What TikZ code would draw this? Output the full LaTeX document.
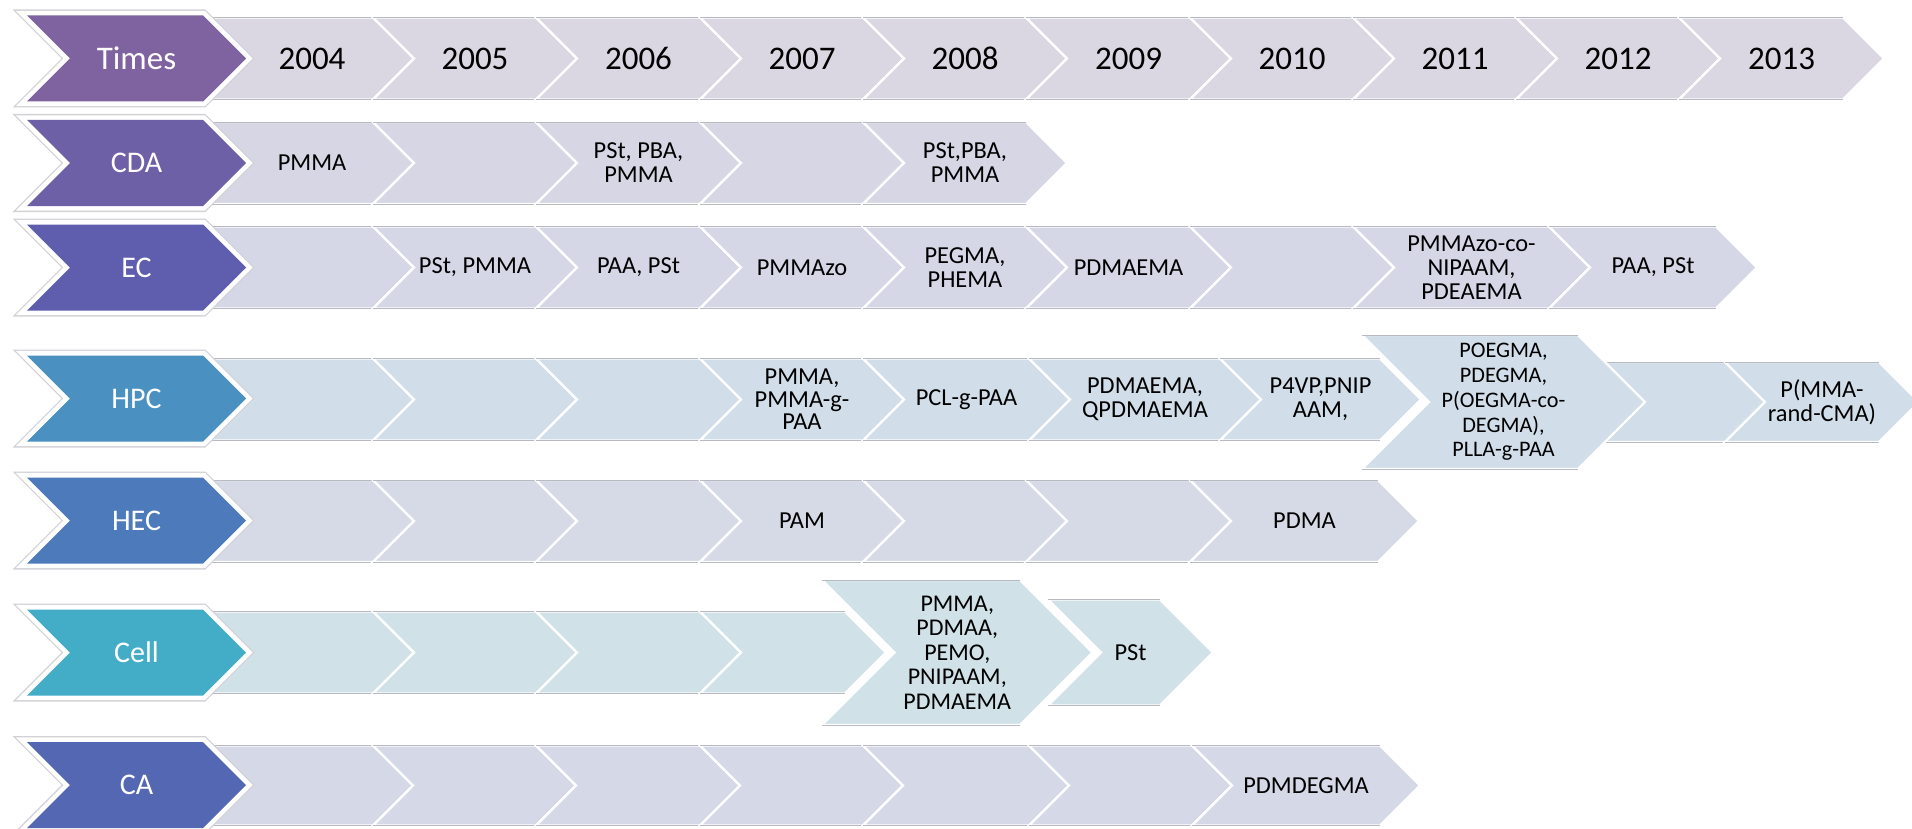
\documentclass[tikz,border=0pt]{standalone}
\usepackage{fontspec}
\setmainfont{Carlito}
\usepackage{tikz}
\usetikzlibrary{calc}

\definecolor{timeshead}{HTML}{7F63A0}
\definecolor{cdahead}{HTML}{6E60A6}
\definecolor{echead}{HTML}{5E5DAE}
\definecolor{hpchead}{HTML}{4A90C1}
\definecolor{hechead}{HTML}{4C7ABA}
\definecolor{cellhead}{HTML}{43ADC8}
\definecolor{cahead}{HTML}{5367B2}
\definecolor{timescell}{HTML}{DAD7E3}
\definecolor{cdacell}{HTML}{D6D6E4}
\definecolor{eccell}{HTML}{D5D6E6}
\definecolor{hpccell}{HTML}{D1DEE9}
\definecolor{heccell}{HTML}{D5DAE6}
\definecolor{cellcell}{HTML}{D0E2E8}
\definecolor{cacell}{HTML}{D5D8E6}
\definecolor{headrim}{HTML}{D2D2D6}
\definecolor{cellrim}{HTML}{B9B9C2}

\tikzset{
        headlabel/.style={text=white, inner sep=0pt,
                          font=\fontsize{15}{18}\selectfont},
        timeslabel/.style={headlabel, font=\fontsize{16.5}{19}\selectfont},
        yearlabel/.style={inner sep=0pt, font=\fontsize{16.5}{19}\selectfont},
        celllabel/.style={align=center, inner sep=0pt,
                          font=\fontsize{12.2}{12}\selectfont},
        cellsep/.style={draw=white, line width=1.2pt, line join=miter},
        rimline/.style={draw=cellrim, line width=0.4pt},
}

% chevron cell: [label style] {left} {right} {mid y} {half height} {fill} {name} {text}
\newcommand{\cellchev}[8][celllabel]{%
  \fill[#6] (#2,#4-#5) -- (#3,#4-#5) -- (#3+#5,#4) -- (#3,#4+#5)
            -- (#2,#4+#5) -- (#2+#5,#4) -- cycle;
  \path[cellsep] (#2,#4-#5) -- (#3,#4-#5) -- (#3+#5,#4) -- (#3,#4+#5)
            -- (#2,#4+#5) -- (#2+#5,#4) -- cycle;
  \path[rimline] (#2,#4-#5) -- (#3,#4-#5) (#2,#4+#5) -- (#3,#4+#5);
  \node[#1] (#7) at ({(#2+#3)/2+#5/2},#4) {#8};
}

% row head: [label style] {mid y} {fill} {name} {text}
\newcommand{\headchev}[5][headlabel]{%
  \path[draw=headrim, line width=6pt, line join=miter]
       (27,#2-43) -- (203,#2-43) -- (246,#2) -- (203,#2+43)
       -- (27,#2+43) -- (70,#2) -- cycle;
  \path[draw=white, line width=4.6pt, line join=miter]
       (27,#2-43) -- (203,#2-43) -- (246,#2) -- (203,#2+43)
       -- (27,#2+43) -- (70,#2) -- cycle;
  \fill[#3] (27,#2-43) -- (203,#2-43) -- (246,#2) -- (203,#2+43)
       -- (27,#2+43) -- (70,#2) -- cycle;
  \node[#1] (#4) at (136.5,#2) {#5};
}

\begin{document}
\begin{tikzpicture}[x=0.5pt, y=-0.5pt]
    \useasboundingbox (0,0) rectangle (1912,829);

    \cellchev[yearlabel]{210}{373}{58.5}{41}{timescell}{t04}{2004}
    \cellchev[yearlabel]{373}{536}{58.5}{41}{timescell}{t05}{2005}
    \cellchev[yearlabel]{536}{700}{58.5}{41}{timescell}{t06}{2006}
    \cellchev[yearlabel]{700}{863}{58.5}{41}{timescell}{t07}{2007}
    \cellchev[yearlabel]{863}{1026}{58.5}{41}{timescell}{t08}{2008}
    \cellchev[yearlabel]{1026}{1190}{58.5}{41}{timescell}{t09}{2009}
    \cellchev[yearlabel]{1190}{1353}{58.5}{41}{timescell}{t10}{2010}
    \cellchev[yearlabel]{1353}{1516}{58.5}{41}{timescell}{t11}{2011}
    \cellchev[yearlabel]{1516}{1679}{58.5}{41}{timescell}{t12}{2012}
    \cellchev[yearlabel]{1679}{1843}{58.5}{41}{timescell}{t13}{2013}
    \headchev[timeslabel]{58.5}{timeshead}{times}{Times}

    \cellchev{210}{373}{163}{41}{cdacell}{c04}{PMMA}
    \cellchev{373}{536}{163}{41}{cdacell}{c05}{}
    \cellchev{536}{700}{163}{41}{cdacell}{c06}{PSt, PBA,\\PMMA}
    \cellchev{700}{863}{163}{41}{cdacell}{c07}{}
    \cellchev{863}{1026}{163}{41}{cdacell}{c08}{PSt,PBA,\\PMMA}
    \headchev{163}{cdahead}{cda}{CDA}

    \cellchev{210}{373}{267.5}{41}{eccell}{e04}{}
    \cellchev{373}{536}{267.5}{41}{eccell}{e05}{PSt, PMMA}
    \cellchev{536}{700}{267.5}{41}{eccell}{e06}{PAA, PSt}
    \cellchev{700}{863}{267.5}{41}{eccell}{e07}{PMMAzo}
    \cellchev{863}{1026}{267.5}{41}{eccell}{e08}{PEGMA,\\PHEMA}
    \cellchev{1026}{1190}{267.5}{41}{eccell}{e09}{PDMAEMA}
    \cellchev{1190}{1353}{267.5}{41}{eccell}{e10}{}
    \cellchev{1353}{1549}{267.5}{41}{eccell}{e11}{PMMAzo-co-\\NIPAAM,\\PDEAEMA}
    \cellchev{1549}{1716}{267.5}{41}{eccell}{e12}{PAA, PSt}
    \headchev{267.5}{echead}{ec}{EC}

    \cellchev{210}{373}{399.5}{41}{hpccell}{h04}{}
    \cellchev{373}{536}{399.5}{41}{hpccell}{h05}{}
    \cellchev{536}{700}{399.5}{41}{hpccell}{h06}{}
    \cellchev[celllabel, font=\fontsize{12.2}{11.3}\selectfont]{700}{863}{399.5}{41}{hpccell}{h07}{PMMA,\\PMMA-g-\\PAA}
    \cellchev{863}{1029}{399.5}{41}{hpccell}{h08}{PCL-g-PAA}
    \cellchev{1029}{1220}{399.5}{41}{hpccell}{h09}{PDMAEMA,\\QPDMAEMA}
    \cellchev{1220}{1380}{399.5}{41}{hpccell}{h10}{P4VP,PNIP\\AAM,}
    \cellchev{1578}{1725}{402}{40}{hpccell}{h12}{}
    \cellchev{1725}{1879}{402}{40}{hpccell}{h13}{P(MMA-\\rand-CMA)}
    \cellchev[celllabel, font=\fontsize{11.1}{12.4}\selectfont]{1362}{1578}{402}{67}{hpccell}{h11}{POEGMA,\\PDEGMA,\\P(OEGMA-co-\\DEGMA),\\PLLA-g-PAA}
    \headchev{398.5}{hpchead}{hpc}{HPC}

    \cellchev{210}{373}{521}{41}{heccell}{he04}{}
    \cellchev{373}{536}{521}{41}{heccell}{he05}{}
    \cellchev{536}{700}{521}{41}{heccell}{he06}{}
    \cellchev{700}{863}{521}{41}{heccell}{he07}{PAM}
    \cellchev{863}{1026}{521}{41}{heccell}{he08}{}
    \cellchev{1026}{1190}{521}{41}{heccell}{he09}{}
    \cellchev{1190}{1378}{521}{41}{heccell}{he10}{PDMA}
    \headchev{520.5}{hechead}{hec}{HEC}

    \cellchev{210}{373}{652.5}{41}{cellcell}{ce04}{}
    \cellchev{373}{536}{652.5}{41}{cellcell}{ce05}{}
    \cellchev{536}{700}{652.5}{41}{cellcell}{ce06}{}
    \cellchev{700}{845}{652.5}{41}{cellcell}{ce07}{}
    \cellchev[celllabel, font=\fontsize{12}{12.3}\selectfont]{822}{1020}{652.5}{72.5}{cellcell}{ce08}{PMMA,\\PDMAA,\\PEMO,\\PNIPAAM,\\PDMAEMA}
    \cellchev{1048}{1160}{652.5}{53}{cellcell}{ce09}{PSt}
    \headchev{652.5}{cellhead}{cell}{Cell}

    \cellchev{210}{373}{785.5}{40}{cacell}{ca04}{}
    \cellchev{373}{536}{785.5}{40}{cacell}{ca05}{}
    \cellchev{536}{700}{785.5}{40}{cacell}{ca06}{}
    \cellchev{700}{863}{785.5}{40}{cacell}{ca07}{}
    \cellchev{863}{1029}{785.5}{40}{cacell}{ca08}{}
    \cellchev{1029}{1192}{785.5}{40}{cacell}{ca09}{}
    \cellchev{1192}{1380}{785.5}{40}{cacell}{ca10}{PDMDEGMA}
    \headchev{785}{cahead}{ca}{CA}
\end{tikzpicture}
\end{document}
